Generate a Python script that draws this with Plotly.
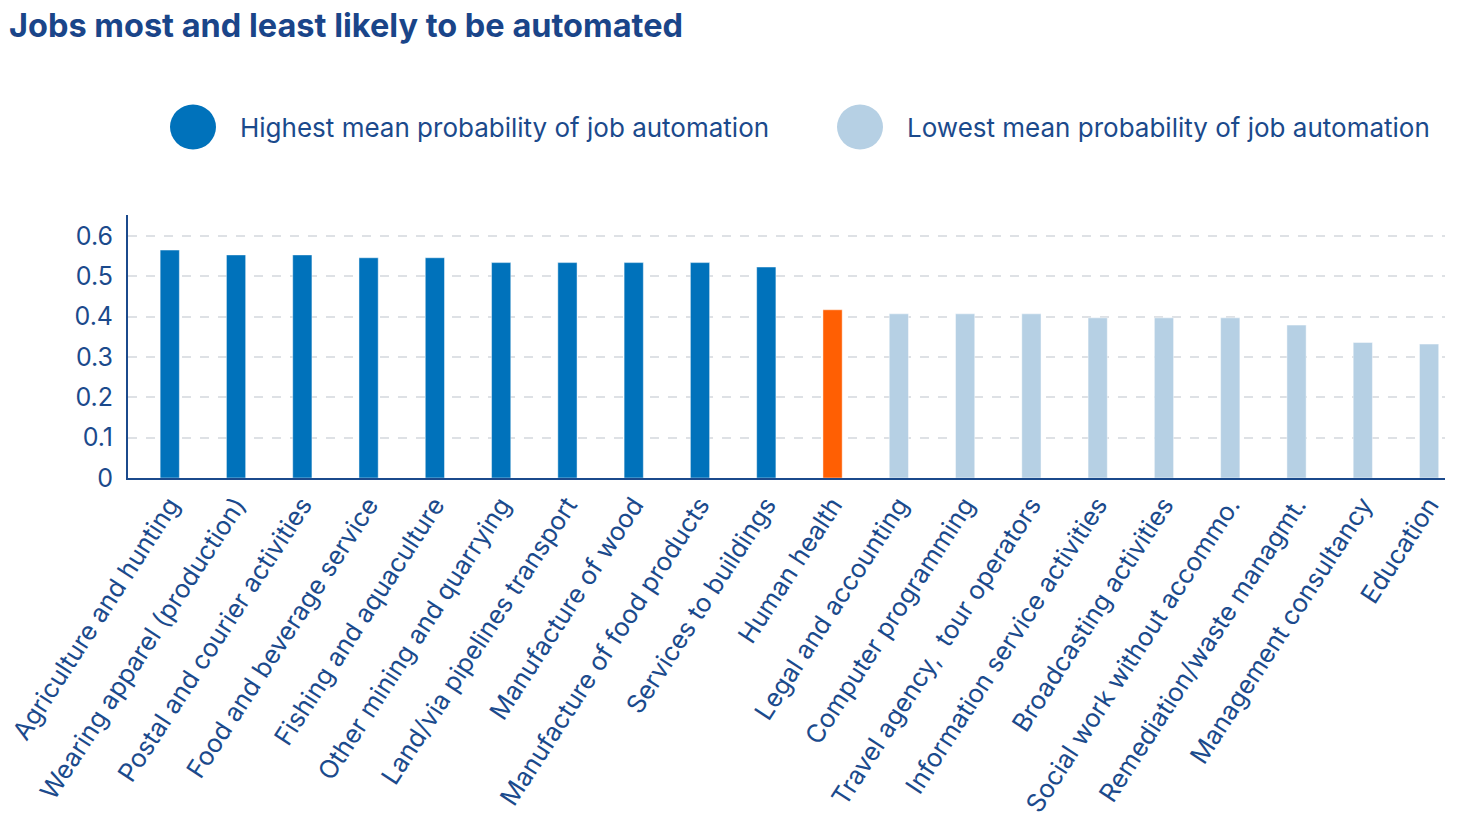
import plotly.graph_objects as go

categories = [
    "Agriculture and hunting", "Wearing apparel (production)", "Postal and courier activities",
    "Food and beverage service", "Fishing and aquaculture", "Other mining and quarrying",
    "Land/via pipelines transport", "Manufacture of wood", "Manufacture of food products",
    "Services to buildings", "Human health", "Legal and accounting", "Computer programming",
    "Travel agency,  tour operators", "Information service activities", "Broadcasting activities",
    "Social work without accommo.", "Remediation/waste managmt.", "Management consultancy",
    "Education",
]
values = [0.565, 0.553, 0.553, 0.546, 0.546, 0.534, 0.534, 0.534, 0.534, 0.523,
          0.417, 0.407, 0.407, 0.407, 0.397, 0.397, 0.397, 0.379, 0.336, 0.332]
groups = ["high"] * 10 + ["mid"] + ["low"] * 9

title_text = "Jobs most and least likely to be automated"
legend_high = "Highest mean probability of job automation"
legend_low = "Lowest mean probability of job automation"
y_ticks = [0, 0.1, 0.2, 0.3, 0.4, 0.5, 0.6]
y_ticklabels = ["0", "0.1", "0.2", "0.3", "0.4", "0.5", "0.6"]

C_HIGH = "#0072BB"
C_MID = "#FF5F03"
C_LOW = "#B6D0E4"
TXT = "#1B4A8C"
color_map = {"high": C_HIGH, "mid": C_MID, "low": C_LOW}
FONT = "Inter"

fig = go.Figure()
fig.add_trace(go.Bar(
    x=list(range(len(categories))), y=values,
    marker=dict(color=[color_map[g] for g in groups],
                line=dict(color="rgba(255,255,255,0.45)", width=1)),
    width=0.29, showlegend=False, hoverinfo="y",
))

fig.update_layout(
    width=1461, height=829,
    margin=dict(l=120, r=24, t=207, b=359, autoexpand=False),
    paper_bgcolor="white", plot_bgcolor="white",
    font=dict(family=FONT, color=TXT),
    showlegend=False,
)
fig.update_xaxes(
    range=[-0.63, 19.24], tickmode="array",
    tickvals=list(range(len(categories))), ticktext=categories,
    tickangle=-57, tickfont=dict(size=25.5, color=TXT, family=FONT),
    ticklabeloverflow="allow", automargin=False,
    showgrid=False, showline=True, linecolor="#1B4A8C", linewidth=2,
    ticks="", zeroline=False, fixedrange=True,
)
fig.update_yaxes(
    range=[0, 0.652], tickmode="array", tickvals=y_ticks, ticktext=y_ticklabels,
    tickfont=dict(size=25, color=TXT, family=FONT), ticklabelstandoff=8,
    automargin=False,
    showgrid=True, gridcolor="#DEE1E5", griddash="dash", gridwidth=1.5,
    showline=True, linecolor="#1B4A8C", linewidth=2,
    ticks="", ticklen=0, zeroline=False, fixedrange=True,
)

# page-pixel helpers (plot area spans x 128..1445, y 215..478 on the page)
def px_x(px):
    return (px - 128) / (1445 - 128)

def px_y(py):
    return (478 - py) / 263

# Title
fig.add_annotation(
    text="<b>" + title_text + "</b>", xref="paper", yref="paper",
    x=px_x(7), y=px_y(25), xanchor="left", yanchor="middle",
    showarrow=False, font=dict(family=FONT, size=32.5, color="#1A4589", weight=900),
)

# Legend (circles + labels)
for cx, col, label, tx in [(193, C_HIGH, legend_high, 238), (860, C_LOW, legend_low, 905)]:
    fig.add_shape(type="circle", xref="paper", yref="paper",
                  x0=px_x(cx - 23), x1=px_x(cx + 23), y0=px_y(127 + 22.5), y1=px_y(127 - 22.5),
                  fillcolor=col, line=dict(width=0))
    fig.add_annotation(text=label, xref="paper", yref="paper",
                       x=px_x(tx), y=px_y(127), xanchor="left", yanchor="middle",
                       showarrow=False, font=dict(family=FONT, size=26, color=TXT))

fig.write_html("out.html")
